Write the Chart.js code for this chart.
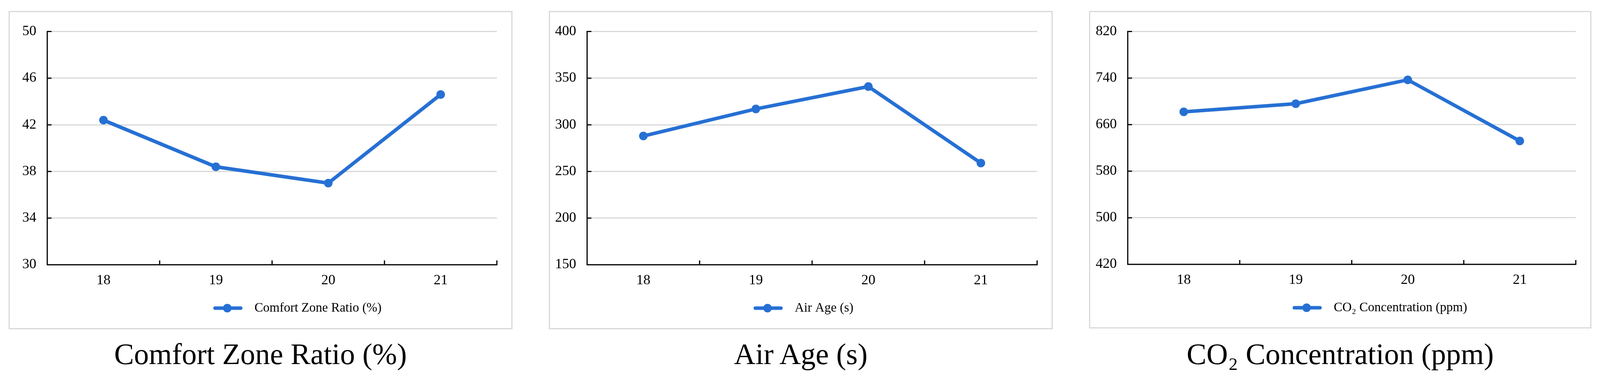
<!DOCTYPE html>
<html><head><meta charset="utf-8">
<script src="https://cdn.jsdelivr.net/npm/chart.js@4/dist/chart.umd.min.js"></script>
<style>
html,body{margin:0;padding:0;background:#fff;width:100%;height:982px;overflow:hidden;position:relative;}
.panel{position:absolute;box-sizing:border-box;border:3px solid #d9d9d9;background:#fff;}
.panel canvas{display:block;}
.title{position:absolute;font-family:"Liberation Serif","Times New Roman",serif;font-size:76px;line-height:78px;text-align:center;color:#000;white-space:nowrap;}
</style></head><body>
<script>
// ---- data ----
const categories = ['18', '19', '20', '21'];
const comfortValues = [42.4, 38.4, 37.0, 44.6];
const airAgeValues = [288, 317, 341, 259];
const co2Values = [682, 696, 737, 632];
const comfortTicks = [30, 34, 38, 42, 46, 50];
const airAgeTicks = [150, 200, 250, 300, 350, 400];
const co2Ticks = [420, 500, 580, 660, 740, 820];
const comfortLabel = 'Comfort Zone Ratio (%)';
const airAgeLabel = 'Air Age (s)';
const co2Label = 'CO\u2082 Concentration (ppm)';

// ---- styles / layout ----
const BLUE = '#2670D4';
const FONT = '"Liberation Serif", "Times New Roman", serif';
const LEGEND_FONT = 33, LEGEND_PAD = 10;
const DESIGN_W = 4308;
const SX = Math.min(1, (window.innerWidth || DESIGN_W) / DESIGN_W);
const X = v => Math.round(v * SX);

function legendImage(w) {
  const c = document.createElement('canvas');
  c.width = w; c.height = 24;
  const g = c.getContext('2d');
  const lineEnd = w * 79 / 94;
  g.strokeStyle = BLUE; g.lineWidth = 9; g.lineCap = 'round';
  g.beginPath(); g.moveTo(4.5, 12); g.lineTo(lineEnd - 4.5, 12); g.stroke();
  g.fillStyle = BLUE; g.beginPath(); g.arc(lineEnd * 0.48, 12, 11, 0, Math.PI * 2); g.fill();
  return c;
}

const axisPlugin = {
  id: 'axesInward',
  beforeDatasetsDraw(chart) {
    const {ctx, chartArea: a, scales: {x, y}} = chart;
    ctx.save();
    ctx.strokeStyle = '#000'; ctx.lineWidth = 3; ctx.lineCap = 'butt';
    ctx.beginPath();
    ctx.moveTo(a.left, a.top - 1.5); ctx.lineTo(a.left, a.bottom + 1.5);
    ctx.moveTo(a.left - 1.5, a.bottom); ctx.lineTo(a.right + 1.5, a.bottom);
    y.ticks.forEach(t => {
      const py = y.getPixelForValue(t.value);
      ctx.moveTo(a.left, py); ctx.lineTo(a.left + 11, py);
    });
    const n = x.ticks.length;
    for (let i = 0; i <= n; i++) {
      let bx;
      if (i === 0) bx = a.left;
      else if (i === n) bx = a.right;
      else bx = (x.getPixelForValue(i - 1) + x.getPixelForValue(i)) / 2;
      ctx.moveTo(bx, a.bottom); ctx.lineTo(bx, a.bottom - 11);
    }
    ctx.stroke();
    ctx.restore();
  }
};

function makePanel(p, label, values, ticks, titleText) {
  const left = X(p.left), width = X(p.left + p.width) - X(p.left);
  const div = document.createElement('div');
  div.className = 'panel';
  Object.assign(div.style, {left: left + 'px', top: p.top + 'px', width: width + 'px', height: p.height + 'px'});
  const innerW = width - 6, innerH = p.height - 6;
  const cv = document.createElement('canvas');
  cv.width = innerW; cv.height = innerH;
  cv.style.width = innerW + 'px'; cv.style.height = innerH + 'px';
  div.appendChild(cv);
  document.body.appendChild(div);

  const t = document.createElement('div');
  t.className = 'title';
  Object.assign(t.style, {left: left + 'px', width: width + 'px', top: p.titleTop + 'px'});
  t.textContent = titleText;
  document.body.appendChild(t);

  const ox = left + 3, oy = p.top + 3;
  const areaL = X(p.plotLeft) - ox, areaR = X(p.plotRight) - ox;
  const areaT = p.plotTop - oy, areaB = p.plotBottom - oy;
  const legX = X(p.legendX) - ox, legY = p.legendY - oy;
  const boxW = Math.round(94 * SX);
  const img = legendImage(boxW);

  const legendPlace = {
    id: 'legendPlace',
    afterLayout(chart) {
      const lg = chart.legend;
      if (!lg) return;
      const w = lg.width, h = lg.height;
      lg.left = legX - LEGEND_PAD; lg.right = lg.left + Math.max(w, 900);
      lg.top = legY - LEGEND_PAD - LEGEND_FONT / 2; lg.bottom = lg.top + h;
    }
  };

  new Chart(cv, {
    type: 'line',
    data: {
      labels: categories,
      datasets: [{
        label: label, data: values,
        borderColor: BLUE, backgroundColor: BLUE,
        borderWidth: 9, pointRadius: 11, pointHoverRadius: 11,
        pointBackgroundColor: BLUE, pointBorderWidth: 0,
        tension: 0, fill: false
      }]
    },
    options: {
      responsive: false, animation: false, devicePixelRatio: 1,
      layout: {padding: {left: 0, top: areaT, right: innerW - areaR, bottom: 0}},
      scales: {
        x: {
          type: 'category', offset: true,
          grid: {display: false, drawTicks: false},
          border: {display: false},
          ticks: {color: '#000', font: {family: FONT, size: 36}, padding: 19, maxRotation: 0, autoSkip: false},
          afterFit: (s) => {
            const lh = (s.chart.legend && s.chart.legend.height) || 53;
            s.height = innerH - lh - areaB;
          }
        },
        y: {
          min: ticks[0], max: ticks[ticks.length - 1],
          grid: {color: '#d9d9d9', lineWidth: 3, drawTicks: false},
          border: {display: false},
          ticks: {color: '#000', font: {family: FONT, size: 36}, padding: Math.round(29 * SX)},
          afterBuildTicks: (s) => { s.ticks = ticks.map(v => ({value: v})); },
          afterFit: (s) => { s.width = areaL; }
        }
      },
      plugins: {
        tooltip: {enabled: false},
        legend: {
          position: 'bottom', align: 'start',
          labels: {
            usePointStyle: true, pointStyleWidth: boxW, boxHeight: 24,
            padding: LEGEND_PAD, color: '#000',
            font: {family: FONT, size: LEGEND_FONT},
            generateLabels: () => [{
              text: label, pointStyle: img, fillStyle: BLUE, strokeStyle: BLUE,
              lineWidth: 0, hidden: false, datasetIndex: 0, fontColor: '#000'
            }]
          }
        }
      }
    },
    plugins: [axisPlugin, legendPlace]
  });
}

// positions in the 4308-wide design space (x is scaled to the actual window width)
const panels = [
  {left: 23, top: 28, width: 1357, height: 814, plotLeft: 127, plotRight: 1338, plotTop: 70, plotBottom: 677, legendX: 574, legendY: 788, titleTop: 866},
  {left: 1478, top: 28, width: 1356, height: 814, plotLeft: 1581, plotRight: 2792, plotTop: 70, plotBottom: 677, legendX: 2029, legendY: 788, titleTop: 866},
  {left: 2932, top: 28, width: 1353, height: 812, plotLeft: 3036, plotRight: 4243, plotTop: 69, plotBottom: 676, legendX: 3480, legendY: 787, titleTop: 866}
];

makePanel(panels[0], comfortLabel, comfortValues, comfortTicks, comfortLabel);
makePanel(panels[1], airAgeLabel, airAgeValues, airAgeTicks, airAgeLabel);
makePanel(panels[2], co2Label, co2Values, co2Ticks, co2Label);
</script>
</body></html>
